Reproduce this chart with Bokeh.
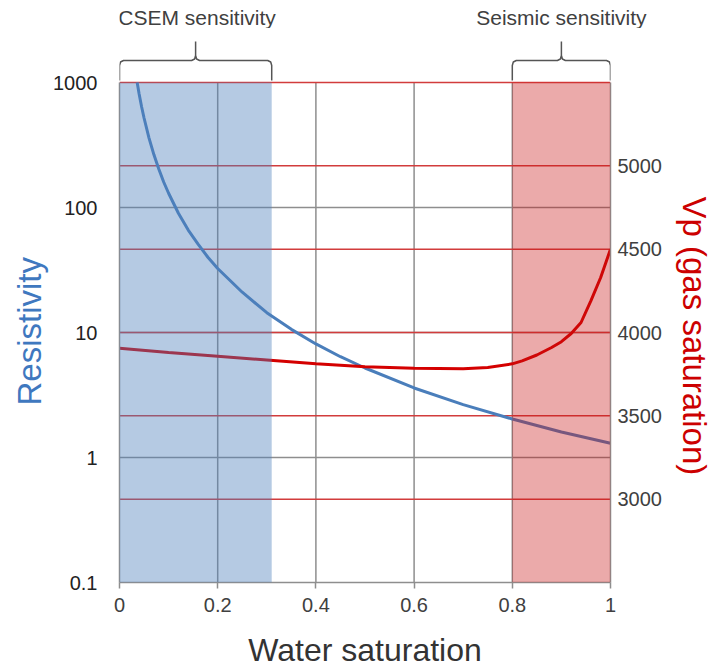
from bokeh.plotting import figure
from bokeh.layouts import column
from bokeh.models import (Range1d, LinearAxis, LinearScale, FixedTicker, CustomJSTickFormatter,
                          Span, BoxAnnotation, Title)
from bokeh.core.properties import value
from bokeh.embed import file_html
from bokeh.resources import INLINE

# ---------------- data ----------------
sw_res = [0.036, 0.04, 0.045, 0.05, 0.06, 0.07, 0.08, 0.09, 0.1, 0.12, 0.14, 0.16, 0.18, 0.2,
          0.25, 0.3, 0.35, 0.4, 0.45, 0.5, 0.6, 0.7, 0.8, 0.9, 1.0]
resistivity = [1000, 810, 640, 520, 361, 265, 203, 160, 130, 90, 66, 51, 40, 32.5,
               21, 14.4, 10.6, 8.1, 6.4, 5.2, 3.6, 2.65, 2.03, 1.6, 1.3]

sw_vp = [0.0, 0.1, 0.2, 0.3, 0.4, 0.5, 0.6, 0.7, 0.75, 0.8, 0.82, 0.85, 0.88, 0.9, 0.92,
         0.94, 0.96, 0.98, 1.0]
vp = [3905, 3880, 3858, 3835, 3812, 3795, 3785, 3782, 3790, 3812, 3830, 3865, 3910, 3945, 3994,
      4060, 4190, 4330, 4500]

x_ticks = [0, 0.2, 0.4, 0.6, 0.8, 1]
res_ticks = [0.1, 1, 10, 100, 1000]
res_bounds = (0.1, 1000)
vp_ticks = [3000, 3500, 4000, 4500, 5000]
vp_bounds = (2500, 5500)
vp_grid = [3000, 3500, 4000, 4500, 5000, 5500]
x_grid = [0.2, 0.4, 0.6, 0.8]
res_grid = [1, 10, 100]

csem_region = (0.0, 0.31)
seismic_region = (0.8, 1.0)
csem_label = "CSEM sensitivity"
seismic_label = "Seismic sensitivity"

# ---------------- layout constants ----------------
W = 719
LEFT = 119            # left border of the main plot
FW = 491              # plot-area width in px
PH = 500              # plot-area height (0.1 .. 1000) in px
TOP_H = 28            # strip for the brace captions
EXTRA_TOP = 54        # room above the plot area for the braces
PX_PER_DEC = PH / 4.0
FONT = "Liberation Sans"
GRAY = "#8e8e8e"

y_top = res_bounds[1] * 10 ** (EXTRA_TOP / PX_PER_DEC)
vp_top = vp_bounds[1] + EXTRA_TOP * (vp_bounds[1] - vp_bounds[0]) / PH

# ---------------- caption strip (frame aligned with the main plot's frame) ----------------
top = figure(frame_width=W - LEFT, frame_height=TOP_H,
             x_range=Range1d(0, (W - LEFT) / FW), y_range=Range1d(0, TOP_H),
             output_backend="svg", toolbar_location=None,
             x_axis_location=None, y_axis_location=None,
             min_border_left=LEFT, min_border_right=0, min_border_top=0, min_border_bottom=0)
top.outline_line_color = None
top.xgrid.visible = False
top.ygrid.visible = False
caption_shift = (1.5 / FW, 0.0)
for (a, b), txt, dx in ((csem_region, csem_label, caption_shift[0]),
                        (seismic_region, seismic_label, caption_shift[1])):
    top.text(x=[(a + b) / 2 + dx], y=[TOP_H - 17], text=[txt], text_align="center",
             text_baseline="middle", text_font=value(FONT), text_font_size="21px",
             text_color="#404040")

# ---------------- main plot ----------------
p = figure(frame_width=FW, frame_height=PH + EXTRA_TOP,
           x_range=Range1d(0, 1), y_range=Range1d(res_bounds[0], y_top), y_axis_type="log",
           output_backend="svg", toolbar_location=None,
           min_border_left=LEFT, min_border_right=W - LEFT - FW, min_border_top=0,
           min_border_bottom=86)
p.outline_line_color = None
p.background_fill_color = "white"

# grids
p.xgrid.visible = False
p.segment(x0=x_grid, y0=[res_bounds[0]] * len(x_grid), x1=x_grid, y1=[res_bounds[1]] * len(x_grid),
          line_color=GRAY, line_width=1.5, level="underlay")
p.ygrid.ticker = FixedTicker(ticks=res_grid)
p.ygrid.grid_line_color = GRAY
p.ygrid.grid_line_width = 1.5

# x axis
xa = p.xaxis[0]
xa.ticker = FixedTicker(ticks=x_ticks)
xa.formatter = CustomJSTickFormatter(code="return tick.toString();")
xa.axis_line_color = GRAY
xa.axis_line_width = 1.5
xa.major_tick_line_color = GRAY
xa.major_tick_line_width = 1.5
xa.major_tick_in = 0
xa.major_tick_out = 6
xa.minor_tick_line_color = None
xa.major_label_standoff = 9
xa.major_label_text_font = FONT
xa.major_label_text_font_size = "20px"
xa.major_label_text_color = "#404040"
xa.axis_label = "Water saturation"
xa.axis_label_text_font = FONT
xa.axis_label_text_font_size = "32px"
xa.axis_label_text_font_style = "normal"
xa.axis_label_text_color = "#333333"
xa.axis_label_standoff = 17

# left axis (resistivity, log)
ya = p.yaxis[0]
ya.bounds = res_bounds
ya.ticker = FixedTicker(ticks=res_ticks)
ya.formatter = CustomJSTickFormatter(code="return tick.toString();")
ya.axis_line_color = GRAY
ya.axis_line_width = 1.5
ya.major_tick_in = 0
ya.major_tick_out = 0
ya.minor_tick_line_color = None
ya.major_label_standoff = 22
ya.major_label_text_font = FONT
ya.major_label_text_font_size = "20px"
ya.major_label_text_color = "#222222"
p.add_layout(Title(text="Resistivity", align="left", offset=177, text_font=FONT,
                   text_font_size="33px", text_font_style="normal", text_color="#3f78bf",
                   standoff=5), "left")

# right axis (Vp, linear)
p.extra_y_ranges = {"vp": Range1d(vp_bounds[0], vp_top)}
p.extra_y_scales = {"vp": LinearScale()}
ra = LinearAxis(y_range_name="vp", ticker=FixedTicker(ticks=vp_ticks), bounds=vp_bounds)
ra.axis_line_color = GRAY
ra.axis_line_width = 1.5
ra.major_tick_in = 0
ra.major_tick_out = 0
ra.minor_tick_line_color = None
ra.major_label_standoff = 7
ra.major_label_text_font = FONT
ra.major_label_text_font_size = "20px"
ra.major_label_text_color = "#404040"
p.add_layout(ra, "right")
p.add_layout(Title(text="Vp (gas saturation)", align="left", offset=168, text_font=FONT,
                   text_font_size="33px", text_font_style="normal", text_color="#cc0000",
                   standoff=18, vertical_align="top"), "right")

# red Vp grid lines
for v in vp_grid:
    p.add_layout(Span(location=v, dimension="width", y_range_name="vp",
                      line_color="#d23c3c", line_width=1.5, level="underlay"))

# curves
p.line(sw_res, resistivity, line_color="#4a7ebb", line_width=3)
p.line(sw_vp, vp, y_range_name="vp", line_color="#d40000", line_width=3)

# sensitivity bands (drawn over the curves, translucent)
p.add_layout(BoxAnnotation(left=csem_region[0], right=csem_region[1],
                           bottom=res_bounds[0], top=res_bounds[1],
                           fill_color="#4f81bd", fill_alpha=0.42, line_color=None))
p.add_layout(BoxAnnotation(left=seismic_region[0], right=seismic_region[1],
                           bottom=res_bounds[0], top=res_bounds[1],
                           fill_color="#c81414", fill_alpha=0.36, line_color=None))

# braces above the plot area
def y_above(d):
    return res_bounds[1] * 10 ** (d / PX_PER_DEC)

def xp(px):
    return px / FW

def brace(x0, x1):
    xc = (x0 + x1) / 2
    path = [(x0, 2), (x0, 17), (x0 + xp(1), 20.5), (x0 + xp(4), 22),
            (xc - xp(4), 22), (xc - xp(1), 23.5), (xc, 27), (xc, 41),
            (xc, 27), (xc + xp(1), 23.5), (xc + xp(4), 22),
            (x1 - xp(4), 22), (x1 - xp(1), 20.5), (x1, 17), (x1, 2)]
    return [pt[0] for pt in path], [y_above(pt[1]) for pt in path]

for (a, b) in (csem_region, seismic_region):
    bx, by = brace(a, b)
    p.line(bx, by, line_color="#555555", line_width=1.5)

open("out.html", "w").write(file_html(column(top, p, spacing=0), INLINE))
